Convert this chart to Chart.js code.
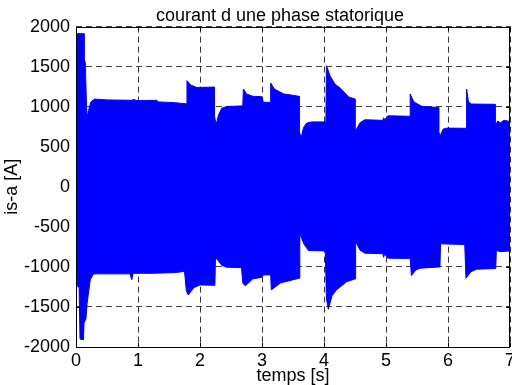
<!DOCTYPE html>
<html>
<head>
<meta charset="utf-8">
<script src="https://cdn.jsdelivr.net/npm/chart.js@4.4.1/dist/chart.umd.min.js"></script>
<style>
  html, body { margin: 0; padding: 0; background: #fff; width: 512px; height: 385px; overflow: hidden; }
  #wrap { width: 560px; height: 385px; position: relative; }
</style>
</head>
<body>
<div id="wrap"><canvas id="c"></canvas></div>
<script>
// Upper envelope of the phase current (time [s], current [A])
const upperTimes = [0, 0.13, 0.13, 0.15, 0.17, 0.18, 0.20, 0.24, 0.30, 0.5, 0.9, 0.92, 1.0, 1.3, 1.33, 1.6, 1.79,
  1.79, 1.85, 1.95, 2.23, 2.23, 2.26, 2.3, 2.35, 2.43, 2.69, 2.70, 2.75, 2.85, 3.0, 3.02, 3.14,
  3.14, 3.2, 3.35, 3.6, 3.6, 3.63, 3.67, 3.72, 3.8, 4.03, 4.04, 4.1, 4.18, 4.26, 4.4, 4.5,
  4.5, 4.52, 4.58, 4.66, 4.95, 4.96, 4.98, 5.03, 5.39, 5.39, 5.45, 5.58, 5.85, 5.85, 5.87, 5.92, 5.98,
  6.3, 6.3, 6.33, 6.38, 6.76, 6.76, 6.8, 6.85, 6.9, 7.0];
const upperValues = [1912, 1912, 1600, 1550, 1000, 860, 950, 1060, 1095, 1085, 1080, 1090, 1075, 1080, 1060, 1050, 1035,
  1325, 1270, 1240, 1245, 900, 775, 900, 980, 1003, 1010, 1221, 1160, 1130, 1125, 1055, 1055,
  1296, 1220, 1160, 1130, 700, 608, 740, 795, 810, 810, 1512, 1380, 1280, 1233, 1120, 1096,
  750, 712, 800, 837, 830, 862, 840, 887, 880, 1158, 1060, 1004, 990, 700, 629, 720, 733,
  730, 1221, 1060, 1033, 1030, 754, 820, 800, 830, 816];

// Lower envelope of the phase current (time [s], current [A])
const lowerTimes = [0, 0.03, 0.05, 0.065, 0.12, 0.13, 0.16, 0.18, 0.23, 0.28, 0.33, 0.87, 0.9, 0.92, 1.25, 1.62, 1.75,
  1.78, 1.81, 1.9, 2.0, 2.24, 2.25, 2.35, 2.43, 2.67, 2.69, 2.73, 2.85, 3.0, 3.02, 3.14,
  3.15, 3.3, 3.6, 3.61, 3.68, 3.75, 4.02, 4.04, 4.07, 4.13, 4.2, 4.37, 4.5,
  4.51, 4.58, 4.66, 4.95, 4.96, 4.98, 5.03, 5.39, 5.41, 5.48, 5.55, 5.87, 5.88, 6.27,
  6.29, 6.37, 6.46, 6.77, 6.78, 6.85, 7.0];
const lowerValues = [-1000, -1250, -1250, -1900, -1910, -1700, -1650, -1450, -1160, -1090, -1087, -1087, -1160, -1080, -1080, -1070, -1055,
  -1300, -1350, -1260, -1225, -1230, -879, -980, -1004, -1010, -1200, -1237, -1150, -1129, -1100, -1100,
  -1287, -1200, -1141, -587, -720, -796, -800, -1400, -1529, -1360, -1287, -1183, -1150,
  -683, -790, -829, -835, -880, -840, -891, -895, -1108, -1040, -1016, -1000, -712, -720,
  -1141, -1060, -1029, -1020, -796, -810, -800];

const xTicks = [0, 1, 2, 3, 4, 5, 6, 7];
const yTicks = [-2000, -1500, -1000, -500, 0, 500, 1000, 1500, 2000];

const titleText = 'courant d une phase statorique';
const xLabel = 'temps [s]';
const yLabel = 'is-a [A]';

const FONT = '"Liberation Sans", Arial, Helvetica, sans-serif';

const framePlugin = {
  id: 'frame',
  afterDatasetsDraw(chart) {
    const { ctx, chartArea: a, scales } = chart;
    ctx.save();
    ctx.strokeStyle = '#000';
    ctx.lineWidth = 1;
    ctx.beginPath();
    ctx.rect(Math.round(a.left) + 0.5, Math.round(a.top) + 0.5,
             Math.round(a.right) - Math.round(a.left) - 1, Math.round(a.bottom) - Math.round(a.top));
    const tl = 4;
    scales.x.ticks.forEach(t => {
      const px = Math.round(scales.x.getPixelForValue(t.value)) + 0.5;
      ctx.moveTo(px, a.bottom); ctx.lineTo(px, a.bottom - tl);
      ctx.moveTo(px, a.top); ctx.lineTo(px, a.top + tl);
    });
    scales.y.ticks.forEach(t => {
      const py = Math.round(scales.y.getPixelForValue(t.value)) + 0.5;
      ctx.moveTo(a.left, py); ctx.lineTo(a.left + tl, py);
      ctx.moveTo(a.right, py); ctx.lineTo(a.right - tl, py);
    });
    ctx.stroke();
    ctx.restore();
  }
};

new Chart(document.getElementById('c'), {
  type: 'line',
  data: {
    datasets: [
      {
        data: upperTimes.map((t, i) => ({ x: t, y: upperValues[i] })),
        borderColor: '#0000ff', backgroundColor: '#0000ff', borderWidth: 1,
        pointRadius: 0, tension: 0, fill: { value: -500 }
      },
      {
        data: lowerTimes.map((t, i) => ({ x: t, y: lowerValues[i] })),
        borderColor: '#0000ff', backgroundColor: '#0000ff', borderWidth: 1,
        pointRadius: 0, tension: 0, fill: 'origin'
      }
    ]
  },
  options: {
    responsive: true,
    maintainAspectRatio: false,
    animation: false,
    layout: { padding: 0 },
    plugins: {
      legend: { display: false },
      tooltip: { enabled: false },
      title: {
        display: true, text: titleText, color: '#000',
        font: { family: FONT, size: 18, weight: 'normal', lineHeight: 1.2 },
        padding: { top: 5, bottom: 0 }
      }
    },
    scales: {
      x: {
        type: 'linear', min: 0, max: 7,
        afterBuildTicks: s => { s.ticks = xTicks.map(v => ({ value: v })); },
        afterFit: s => { s.height = 38; },
        ticks: { color: '#000', padding: 3, maxRotation: 0, font: { family: FONT, size: 18 },
                 callback: v => String(v) },
        grid: { color: '#333', lineWidth: 1, drawTicks: false },
        border: { display: false, dash: [6, 4] },
        title: { display: true, text: xLabel, color: '#000', padding: { top: 0, bottom: 0 },
                 font: { family: FONT, size: 18, lineHeight: 1.0 } }
      },
      y: {
        type: 'linear', min: -2000, max: 2000,
        afterBuildTicks: s => { s.ticks = yTicks.map(v => ({ value: v })); },
        afterFit: s => { s.width = 76; },
        ticks: { color: '#000', padding: 6, font: { family: FONT, size: 18 },
                 callback: v => String(v) },
        grid: { color: '#444', lineWidth: 1, drawTicks: false },
        border: { display: false, dash: [6, 4] },
        title: { display: true, text: yLabel, color: '#000', padding: { top: 3, bottom: 0 },
                 font: { family: FONT, size: 18, lineHeight: 1.0 } }
      },
      yRight: {
        type: 'linear', position: 'right', min: -2000, max: 2000,
        afterFit: s => { s.width = 50; },
        ticks: { display: false },
        grid: { display: false, drawTicks: false },
        border: { display: false },
        title: { display: false }
      }
    }
  },
  plugins: [framePlugin]
});
</script>
</body>
</html>
